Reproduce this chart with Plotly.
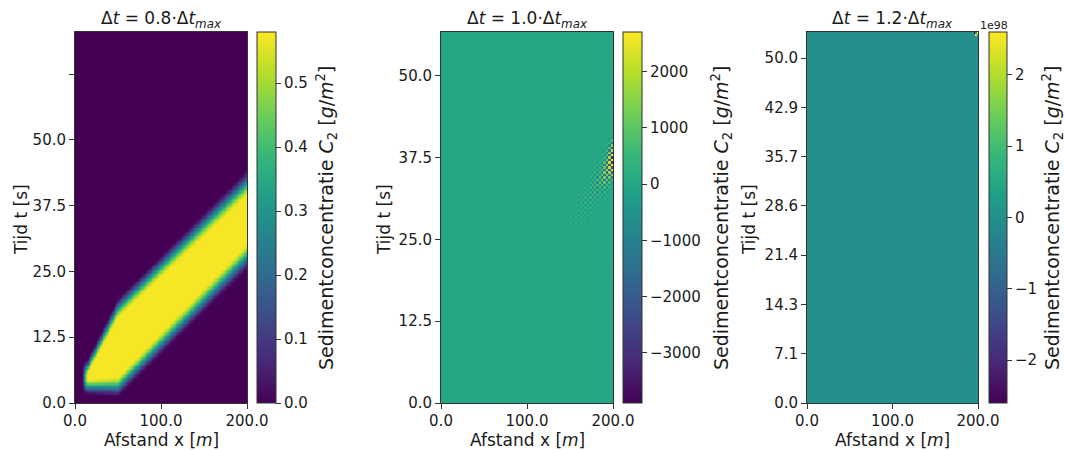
import numpy as np
import plotly.graph_objects as go

W, H = 1065, 450
FONT = "DejaVu Sans"

# ---------------- panel 1: stable run (dt = 0.8 dt_max) ----------------
band_x = [12.0, 15.0, 50.0, 200.0]            # distance [m]
band_t_low = [3.0, 3.0, 3.0, 27.7]            # lower edge of the pulse [s]
band_t_high = [6.5, 7.0, 18.0, 41.8]          # upper edge of the pulse [s]
band_edge_width = [3.2, 3.2, 4.2, 5.5]        # width of the front [s]
band_left_x = 11.5
band_left_width = 8.0
band_peak = 0.575
cb1_range = [0.0, 0.58]
t1_max = 70.5

# ---------------- panel 2: marginal run (dt = 1.0 dt_max) ---------------
inst_x = [140.0, 155.0, 170.0, 182.0, 190.0, 196.0, 200.0]
inst_t_centre = [25.5, 28.5, 31.0, 33.5, 35.0, 36.5, 37.4]
inst_amp = [0.0, 150.0, 400.0, 800.0, 1400.0, 2400.0, 3900.0]
inst_half_width = 4.0
cb2_range = [-3890.0, 2700.0]
t2_max = 56.7

# ---------------- panel 3: unstable run (dt = 1.2 dt_max) ---------------
blowup_value = 2.58e98
cb3_range = [-2.6e98, 2.6e98]
t3_max = 53.8

titles = ["Δ<i>t</i> = 0.8·Δ<i>t</i><sub><i>max</i></sub>",
          "Δ<i>t</i> = 1.0·Δ<i>t</i><sub><i>max</i></sub>",
          "Δ<i>t</i> = 1.2·Δ<i>t</i><sub><i>max</i></sub>"]
x_ticks = [0, 100, 200]
x_ticktext = ["0.0", "100.0", "200.0"]
y1_ticks = [0, 12.5, 25, 37.5, 50, 62.5]
y1_ticktext = ["0.0", "12.5", "25.0", "37.5", "50.0", ""]
y2_ticks = [0, 12.5, 25, 37.5, 50]
y2_ticktext = ["0.0", "12.5", "25.0", "37.5", "50.0"]
y3_ticks = [k * 50 / 7 for k in range(8)]
y3_ticktext = ["0.0", "7.1", "14.3", "21.4", "28.6", "35.7", "42.9", "50.0"]
cb1_ticks = [0.0, 0.1, 0.2, 0.3, 0.4, 0.5]
cb1_ticktext = ["0.0", "0.1", "0.2", "0.3", "0.4", "0.5"]
cb2_ticks = [-3000, -2000, -1000, 0, 1000, 2000]
cb2_ticktext = ["\u22123000", "\u22122000", "\u22121000", "0", "1000", "2000"]
cb3_ticks = [-2e98, -1e98, 0, 1e98, 2e98]
cb3_ticktext = ["\u22122", "\u22121", "0", "1", "2"]

TICK_SIZE = 15
LABEL_SIZE = 17
CB_LABEL_SIZE = 19
TITLE_SIZE = 17


def ramp(u):
    v = np.clip(u + 0.5, 0.0, 1.0)
    return v * v * (3 - 2 * v)


def centres(upper, n):
    step = upper / n
    return np.arange(n) * step + step / 2


# field 1
x1 = centres(200.0, 200)
t1 = centres(t1_max, 282)
X1, T1 = np.meshgrid(x1, t1)
lo = np.interp(x1, band_x, band_t_low)[None, :]
hi = np.interp(x1, band_x, band_t_high)[None, :]
wd = np.interp(x1, band_x, band_edge_width)[None, :]
z1 = band_peak * ramp((T1 - lo) / wd) * ramp((hi - T1) / wd) \
    * ramp((X1 - band_left_x) / band_left_width)

# field 2: checkerboard oscillation riding on the front
x2 = centres(200.0, 72)
t2 = centres(t2_max, 149)
X2, T2 = np.meshgrid(x2, t2)
ii, jj = np.meshgrid(np.arange(len(x2)), np.arange(len(t2)))
sign = np.where((ii + jj) % 2 == 0, 1.0, -1.0)
amp = np.interp(x2, inst_x, inst_amp, left=0.0)[None, :]
tc = np.interp(x2, inst_x, inst_t_centre)[None, :]
bump = np.clip(1 - np.abs(T2 - tc) / inst_half_width, 0, 1)
z2 = np.clip(amp * bump * sign, cb2_range[0], cb2_range[1])

# field 3: flat field, blow-up confined to the last cells
x3 = centres(200.0, 128)
t3 = centres(t3_max, 200)
z3 = np.zeros((len(t3), len(x3)))
z3[-1, -1] = blowup_value
z3[-1, -3] = -blowup_value
z3[-2, -2] = blowup_value

# ---------------- layout geometry (pixels) ----------------
plots = [(75, 247), (441, 613), (807, 978)]
cbars = [(257, 276), (623, 642), (989, 1007)]
y_top, y_bot = 32, 403
ydom = [1 - y_bot / H, 1 - y_top / H]


def cbar(i, ticks, text):
    x0, x1_ = cbars[i]
    return dict(x=x0 / W, xanchor="left", xref="paper", y=ydom[0], yanchor="bottom",
                len=y_bot - y_top, lenmode="pixels", thickness=x1_ - x0,
                thicknessmode="pixels", xpad=0, ypad=0, outlinewidth=1,
                outlinecolor="#333333", ticks="outside", ticklen=5,
                tickcolor="#333333", tickvals=ticks, ticktext=text,
                tickfont=dict(size=TICK_SIZE, family=FONT, color="#1a1a1a"))


fig = go.Figure()
fig.add_trace(go.Heatmap(x=x1, y=t1, z=z1, colorscale="Viridis",
                         zmin=cb1_range[0], zmax=cb1_range[1],
                         colorbar=cbar(0, cb1_ticks, cb1_ticktext),
                         xaxis="x", yaxis="y", hoverinfo="skip"))
fig.add_trace(go.Heatmap(x=x2, y=t2, z=z2, colorscale="Viridis",
                         zmin=cb2_range[0], zmax=cb2_range[1],
                         colorbar=cbar(1, cb2_ticks, cb2_ticktext),
                         xaxis="x2", yaxis="y2", hoverinfo="skip"))
fig.add_trace(go.Heatmap(x=x3, y=t3, z=z3, colorscale="Viridis",
                         zmin=cb3_range[0], zmax=cb3_range[1],
                         colorbar=cbar(2, cb3_ticks, cb3_ticktext),
                         xaxis="x3", yaxis="y3", hoverinfo="skip"))

axis_common = dict(showline=True, mirror=True, linecolor="#333333", linewidth=1,
                   ticks="outside", ticklen=5, tickcolor="#333333",
                   showgrid=False, zeroline=False, fixedrange=True,
                   tickfont=dict(size=TICK_SIZE, family=FONT, color="#1a1a1a"))
layout = dict(width=W, height=H,
              margin=dict(l=0, r=0, t=0, b=0, pad=0, autoexpand=False),
              paper_bgcolor="white", plot_bgcolor="white", showlegend=False,
              font=dict(family=FONT, size=TICK_SIZE, color="#1a1a1a"))
ytick_sets = [(y1_ticks, y1_ticktext, t1_max), (y2_ticks, y2_ticktext, t2_max),
              (y3_ticks, y3_ticktext, t3_max)]
annotations = []
ytitle_x = [21, 384, 749]
cbtitle_x = [326, 721, 1052]
for i, (px0, px1) in enumerate(plots):
    sfx = "" if i == 0 else str(i + 1)
    yv, yt, ymax = ytick_sets[i]
    layout["xaxis" + sfx] = dict(axis_common, domain=[px0 / W, px1 / W], range=[0, 200],
                                 tickvals=x_ticks, ticktext=x_ticktext,
                                 ticklabelstandoff=-1, anchor="y" + sfx)
    layout["yaxis" + sfx] = dict(axis_common, domain=ydom, range=[0, ymax],
                                 tickvals=yv, ticktext=yt, anchor="x" + sfx)
    cx = (px0 + px1) / 2
    annotations.append(dict(text=titles[i], x=cx / W, y=1 - 19 / H, xref="paper",
                            yref="paper", showarrow=False, xanchor="center",
                            yanchor="middle", font=dict(size=TITLE_SIZE)))
    annotations.append(dict(text="Afstand x [<i>m</i>]", x=cx / W, y=1 - 440 / H,
                            xref="paper", yref="paper", showarrow=False,
                            xanchor="center", yanchor="middle",
                            font=dict(size=LABEL_SIZE)))
    annotations.append(dict(text="Tijd t [s]", x=ytitle_x[i] / W,
                            y=1 - 220 / H, xref="paper", yref="paper",
                            showarrow=False, textangle=-90, xanchor="center",
                            yanchor="middle", font=dict(size=LABEL_SIZE)))
    annotations.append(dict(text="Sedimentconcentratie <i>C</i><sub>2</sub> [<i>g</i>/<i>m</i><sup>2</sup>]",
                            x=cbtitle_x[i] / W, y=1 - 218 / H, xref="paper",
                            yref="paper", showarrow=False, textangle=-90,
                            xanchor="center", yanchor="middle",
                            font=dict(size=CB_LABEL_SIZE)))
annotations.append(dict(text="1e98", x=994 / W, y=1 - 25 / H, xref="paper",
                        yref="paper", showarrow=False, xanchor="center",
                        yanchor="middle", font=dict(size=11)))
layout["annotations"] = annotations
fig.update_layout(**layout)
fig.write_html("out.html")
